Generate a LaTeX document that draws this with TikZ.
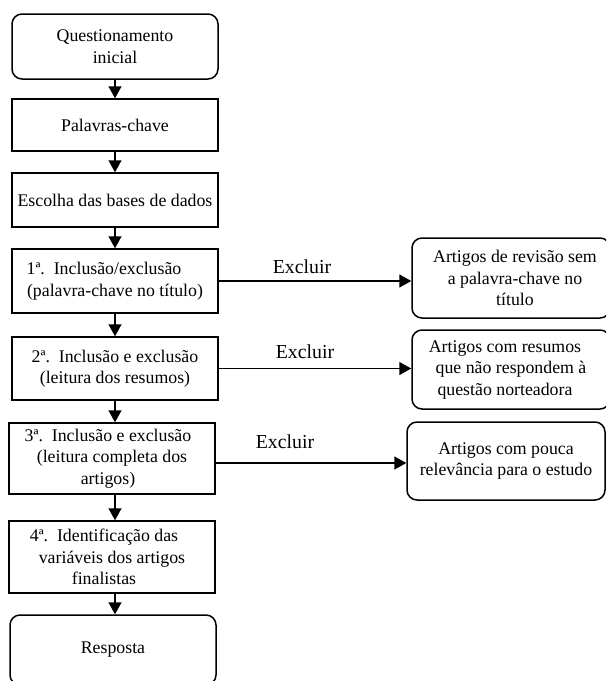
\documentclass[tikz,border=0pt]{standalone}
\usepackage{fontspec}
\setmainfont{Liberation Serif}
\usetikzlibrary{arrows.meta}
\begin{document}
\begin{tikzpicture}[x=1pt,y=-1pt,
  every node/.style={font=\fontsize{17.8}{21.5}\selectfont, align=center, inner sep=0pt},
  sqbox/.style={draw, line width=1.5pt, minimum width=206pt},
  rdbox/.style={draw, line width=1.5pt, rounded corners=10pt},
  excl/.style={font=\fontsize{19.8}{23}\selectfont},
  arr/.style={line width=1.5pt, -{Triangle[length=12pt,width=13pt]}}]
\useasboundingbox (0,0) rectangle (606,681);
\clip (0,0) rectangle (606,681);
% left column
\node[rdbox, minimum width=206pt, minimum height=65pt] (Q) at (115,46.5) {Questionamento\\inicial};
\node[sqbox, minimum height=52pt] (P) at (115,125) {Palavras-chave};
\node[sqbox, minimum height=54pt] (E) at (115,200) {Escolha das bases de dados};
\node[sqbox, minimum height=64pt] (I1) at (115,281) {1ª.\ \ Inclusão/exclusão\hspace*{22pt}\\(palavra-chave no título)};
\node[sqbox, minimum height=63pt] (I2) at (115,368.5) {2ª.\ \ Inclusão e exclusão\\(leitura dos resumos)};
\node[sqbox, minimum height=71pt] (I3) at (112,458.5) {3ª.\ \ Inclusão e exclusão\hspace*{8pt}\\(leitura completa dos\hspace*{8pt}\\artigos)\hspace*{8pt}};
\node[sqbox, minimum height=72pt] (I4) at (112,557) {4ª.\ \ Identificação das\hspace*{16pt}\\variáveis dos artigos\hspace*{16pt}\\finalistas\hspace*{16pt}};
\node[rdbox, minimum width=206pt, minimum height=70pt] (R) at (113,650) {Resposta};
% right column
\node[rdbox, minimum width=198pt, minimum height=80pt] (X1) at (511,278) {\hspace*{8pt}Artigos de revisão sem\\\hspace*{8pt}a palavra-chave no\\\hspace*{8pt}título};
\node[rdbox, minimum width=198pt, minimum height=79pt] (X2) at (511,369.5) {Artigos com resumos\hspace*{12pt}\\que não respondem à\hspace*{12pt}\\questão norteadora\hspace*{12pt}};
\node[rdbox, minimum width=198pt, minimum height=78pt] (X3) at (506,461) {Artigos com pouca\\relevância para o estudo};
% vertical arrows
\draw[arr] (Q.south) -- (P.north);
\draw[arr] (P.south) -- (E.north);
\draw[arr] (E.south) -- (I1.north);
\draw[arr] (I1.south) -- (I2.north);
\draw[arr] (I2.south) -- (I2.south |- I3.north);
\draw[arr] (I3.south -| I2.south) -- (I4.north -| I2.south);
\draw[arr] (I4.south -| I2.south) -- (R.north -| I2.south);
% horizontal arrows
\draw[arr] (I1.east) -- (I1.east -| X1.west);
\draw[arr] (I2.east) -- (I2.east -| X2.west);
\coordinate (a3) at (I3.east |- 0,463);
\draw[arr] (a3) -- (a3 -| X3.west);
% labels
\node[excl] (L1) at (302,267) {Excluir};
\node[excl] (L2) at (305,352) {Excluir};
\node[excl] (L3) at (285,442) {Excluir};
\end{tikzpicture}
\end{document}
